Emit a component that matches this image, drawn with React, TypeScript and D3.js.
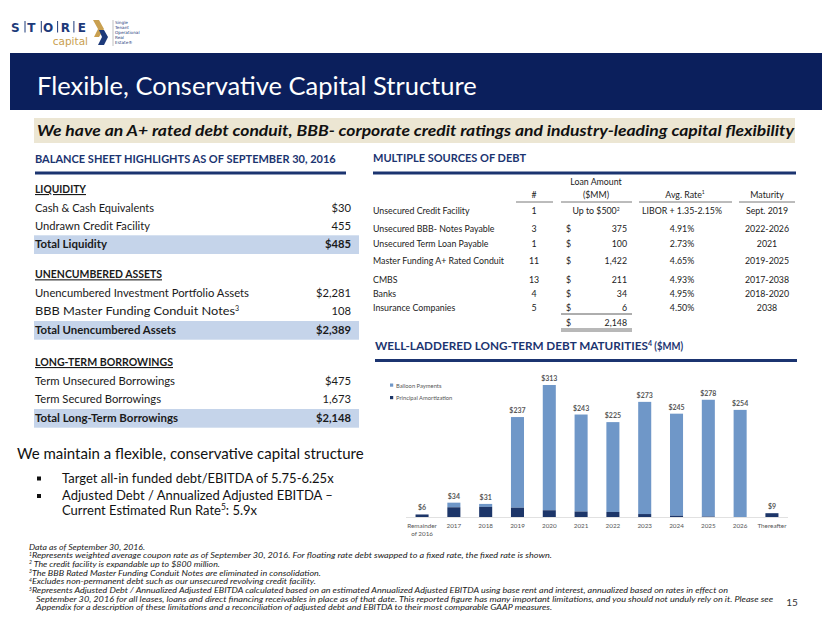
import React from "react";
import * as d3 from "d3";

const categories = ["Remainder|of 2016", "2017", "2018", "2019", "2020", "2021", "2022", "2023", "2024", "2025", "2026", "Thereafter"];
const balloon = [0, 11, 7, 215, 297, 230, 213, 266, 242, 277, 254, 0];
const amortization = [6, 23, 24, 22, 16, 13, 12, 7, 3, 1, 0, 9];
const seriesNames = ["Balloon Payments", "Principal Amortization"];

const liquidityRows = [["Cash & Cash Equivalents", "$30"], ["Undrawn Credit Facility", "455"]];
const liquidityTotal = ["Total Liquidity", "$485"];
const unencRows = [["Unencumbered Investment Portfolio Assets", "$2,281"], ["BBB Master Funding Conduit Notes|3", "108"]];
const unencTotal = ["Total Unencumbered Assets", "$2,389"];
const borrowRows = [["Term Unsecured Borrowings", "$475"], ["Term Secured Borrowings", "1,673"]];
const borrowTotal = ["Total Long-Term Borrowings", "$2,148"];

const debtNames = ["Unsecured Credit Facility", "Unsecured BBB- Notes Payable", "Unsecured Term Loan  Payable", "Master Funding A+ Rated Conduit", "CMBS", "Banks", "Insurance Companies"];
const debtCounts = ["1", "3", "1", "11", "13", "4", "5"];
const debtAmounts = ["", "375", "100", "1,422", "211", "34", "6"];
const debtRates = ["LIBOR + 1.35-2.15%", "4.91%", "2.73%", "4.65%", "4.93%", "4.95%", "4.50%"];
const debtMaturities = ["Sept. 2019", "2022-2026", "2021", "2019-2025", "2017-2038", "2018-2020", "2038"];
const debtTotal = "2,148";

const footnotes = [
  ["", "Data as of September 30, 2016."],
  ["1", "Represents weighted average coupon rate as of September 30, 2016.  For floating rate debt swapped to a fixed rate, the fixed rate is shown."],
  ["2", " The credit facility is expandable up to $800 million."],
  ["3", "The BBB Rated Master Funding Conduit Notes are eliminated in consolidation."],
  ["4", "Excludes non-permanent debt such as our unsecured revolving credit facility."],
  ["5", "Represents Adjusted Debt / Annualized Adjusted EBITDA calculated based on an estimated Annualized Adjusted EBITDA using base rent and interest, annualized based on rates in effect on"],
  ["", "September 30, 2016 for all leases, loans and direct financing receivables in place as of that date. This reported figure has many important limitations, and you should not unduly rely on it.  Please see"],
  ["", "Appendix for a description of these limitations and a reconciliation of adjusted debt and EBITDA to their most comparable GAAP measures."],
];

// layout (not data): measured text widths from the reference
const FOOT_WIDTHS = [116, 523, 191, 292, 287, 699, 737, 516];
const LABEL_WIDTHS: Record<string, number> = {
  "Cash & Cash Equivalents": 119,
  "Undrawn Credit Facility": 115,
  "Total Liquidity": 72,
  "Unencumbered Investment Portfolio Assets": 214,
  "BBB Master Funding Conduit Notes": 200,
  "Total Unencumbered Assets": 141,
  "Term Unsecured Borrowings": 140,
  "Term Secured Borrowings": 126,
  "Total Long-Term Borrowings": 143,
  "LIQUIDITY": 51,
  "UNENCUMBERED ASSETS": 127,
  "LONG-TERM BORROWINGS": 138,
};

const FONT = "Lato, 'Open Sans', sans-serif";
const NAVY = "#0b1f5c";
const HEAD = "#1b3470";
const BAR_LIGHT = "#6f97c8";
const BAR_DARK = "#1d3669";
const HILITE = "#c5d4ea";
const TEXT = "#1a1a1a";

function Section({ y0, title, rows, total, rowYs, totalY }: any) {
  return (
    <g>
      <text x={35} y={y0} fontSize={11} fontWeight={700} textDecoration="underline" fill={TEXT} textLength={LABEL_WIDTHS[title]} lengthAdjust="spacingAndGlyphs">{title}</text>
      {rows.map((r: string[], i: number) => {
        const [label, sup] = r[0].split("|");
        return (
          <g key={i}>
            <text x={35} y={rowYs[i]} fontSize={11.2} fill={TEXT}>
              <tspan textLength={LABEL_WIDTHS[label]} lengthAdjust="spacingAndGlyphs">{label}</tspan>
              {sup && <tspan dy={-4} fontSize={7}>{sup}</tspan>}
            </text>
            <text x={351} y={rowYs[i]} fontSize={11.2} textAnchor="end" fill={TEXT}>{r[1]}</text>
          </g>
        );
      })}
      <rect x={34} y={totalY - 13} width={325} height={18.7} fill={HILITE} />
      <text x={35} y={totalY} fontSize={11.2} fontWeight={700} fill={TEXT} textLength={LABEL_WIDTHS[total[0]]} lengthAdjust="spacingAndGlyphs">{total[0]}</text>
      <text x={351} y={totalY} fontSize={11.2} fontWeight={700} textAnchor="end" fill={TEXT}>{total[1]}</text>
    </g>
  );
}

export default function App() {
  const x = d3.scaleBand<string>().domain(categories).range([406, 788]).paddingInner(0.59).paddingOuter(0.3);
  const y = d3.scaleLinear().domain([0, 313]).range([517, 385]);
  const stacked = categories.map((c, i) => ({ c, a: amortization[i], b: balloon[i], t: amortization[i] + balloon[i] }));

  const rowY = [214, 232.3, 246.7, 264.3, 282.7, 296.7, 311];

  return (
    <svg width={830} height={623} style={{ position: "absolute", left: 0, top: 0, background: "#fff" }} fontFamily={FONT}>
      {/* Logo */}
      <g>
        <text x={11} y={31.5} fontSize={12} fontWeight={900} fill="#1d3a7a" letterSpacing={7.6} fontFamily="'DejaVu Sans', sans-serif">STORE</text>
        {[0, 1, 2, 3].map((i) => (
          <line key={i} x1={25 + i * 16.3} x2={25 + i * 16.3} y1={21} y2={32.5} stroke="#1d3a7a" strokeWidth={1} />
        ))}
        <text x={88} y={44.5} fontSize={10.5} fill="#c9a050" textAnchor="end" fontFamily="'DejaVu Sans', sans-serif">capital</text>
        <polygon points="93,20 99,20 104,29 99,37 94,37 98,29" fill="#c9a050" />
        <polygon points="99,30 104,30 108,37 104,45 98,45 102,37" fill="#1d3a7a" />
        <line x1={113} x2={113} y1={20} y2={46} stroke="#999" strokeWidth={0.6} />
        {["Single", "Tenant", "Operational", "Real", "Estate®"].map((t, i) => (
          <text key={t} x={115} y={24 + i * 5} fontSize={4.2} fill="#1d3a7a" fontFamily="'DejaVu Sans', sans-serif">{t}</text>
        ))}
      </g>

      {/* Title banner */}
      <rect x={10} y={53} width={812} height={57} fill={NAVY} />
      <text x={37} y={95} fontSize={25.5} fill="#fff">Flexible, Conservative Capital Structure</text>

      {/* Tagline */}
      <rect x={34} y={118} width={761} height={25} fill="#ece6d3" />
      <text x={37} y={136} fontSize={15.5} fontWeight={700} fontStyle="italic" fill="#111" textLength={757} lengthAdjust="spacingAndGlyphs">
        We have an A+ rated debt conduit, BBB- corporate credit ratings and industry-leading capital flexibility
      </text>

      {/* Left section heading */}
      <text x={35} y={163} fontSize={11} fontWeight={700} fill={HEAD}>BALANCE SHEET HIGHLIGHTS AS OF SEPTEMBER 30, 2016</text>
      <rect x={35} y={171.5} width={311} height={3} fill={HEAD} />

      <Section y0={193} title="LIQUIDITY" rows={liquidityRows} total={liquidityTotal} rowYs={[211.7, 230]} totalY={248.3} />
      <Section y0={278.3} title="UNENCUMBERED ASSETS" rows={unencRows} total={unencTotal} rowYs={[296.7, 315.3]} totalY={334} />
      <Section y0={366} title="LONG-TERM BORROWINGS" rows={borrowRows} total={borrowTotal} rowYs={[385, 403.3]} totalY={422} />

      {/* Capital structure bullets */}
      <text x={17} y={459.3} fontSize={15} fill="#111">We maintain a flexible, conservative capital structure</text>
      <rect x={37} y={476.5} width={4} height={4} fill="#111" />
      <text x={62} y={482.7} fontSize={13} fill="#111">Target all-in funded debt/EBITDA of 5.75-6.25x</text>
      <rect x={37} y={494} width={4} height={4} fill="#111" />
      <text x={62} y={500} fontSize={13} fill="#111">Adjusted Debt / Annualized Adjusted EBITDA –</text>
      <text x={62} y={515.3} fontSize={13} fill="#111">
        Current Estimated Run Rate<tspan dy={-5} fontSize={8.5}>5</tspan><tspan dy={5}>:  5.9x</tspan>
      </text>

      {/* Right: Multiple sources of debt */}
      <text x={373} y={162} fontSize={11} fontWeight={700} fill={HEAD}>MULTIPLE SOURCES OF DEBT</text>
      <rect x={373} y={171.5} width={423} height={3} fill={HEAD} />

      <g fontSize={8.8} fill="#222">
        <text x={596} y={185} textAnchor="middle">Loan Amount</text>
        <text x={596} y={197.5} textAnchor="middle">($MM)</text>
        <text x={534} y={197.5} textAnchor="middle">#</text>
        <text x={685} y={197.5} textAnchor="middle">Avg. Rate<tspan dy={-3.5} fontSize={5}>1</tspan></text>
        <text x={767} y={197.5} textAnchor="middle">Maturity</text>
        {[[516, 553], [561, 632], [639, 732], [739, 795]].map(([a, b], i) => (
          <line key={i} x1={a} x2={b} y1={202} y2={202} stroke="#555" strokeWidth={0.8} />
        ))}
        {debtNames.map((n, i) => (
          <g key={n}>
            <text x={373} y={rowY[i]}>{n}</text>
            <text x={534} y={rowY[i]} textAnchor="middle">{debtCounts[i]}</text>
            {i === 0 ? (
              <text x={596} y={rowY[i]} textAnchor="middle">Up to $500<tspan dy={-3.5} fontSize={5}>2</tspan></text>
            ) : (
              <g>
                <text x={566} y={rowY[i]}>$</text>
                <text x={627} y={rowY[i]} textAnchor="end">{debtAmounts[i]}</text>
              </g>
            )}
            <text x={682} y={rowY[i]} textAnchor="middle">{debtRates[i]}</text>
            <text x={767} y={rowY[i]} textAnchor="middle">{debtMaturities[i]}</text>
          </g>
        ))}
        <line x1={561} x2={632} y1={314} y2={314} stroke="#333" strokeWidth={0.8} />
        <text x={566} y={326}>$</text>
        <text x={627} y={326} textAnchor="end">{debtTotal}</text>
        <line x1={561} x2={632} y1={329} y2={329} stroke="#333" strokeWidth={0.7} />
        <line x1={561} x2={632} y1={331} y2={331} stroke="#333" strokeWidth={0.7} />
      </g>

      {/* Chart heading */}
      <text x={375} y={350} fontSize={11} fontWeight={700} fill={HEAD}>
        <tspan textLength={273} lengthAdjust="spacingAndGlyphs">WELL-LADDERED LONG-TERM DEBT MATURITIES</tspan>
        <tspan dy={-4} fontSize={7}>4</tspan>
        <tspan dy={4} textLength={31} lengthAdjust="spacingAndGlyphs"> ($MM)</tspan>
      </text>
      <rect x={375} y={359} width={422} height={3} fill={HEAD} />

      {/* Legend */}
      <rect x={390} y={383.5} width={3.2} height={3.2} fill={BAR_LIGHT} />
      <text x={396} y={387.5} fontSize={5.8} fill="#555">{seriesNames[0]}</text>
      <rect x={390} y={396} width={3.2} height={3.2} fill={BAR_DARK} />
      <text x={396} y={400} fontSize={5.8} fill="#555">{seriesNames[1]}</text>

      {/* Bars */}
      <line x1={406} x2={788} y1={517.5} y2={517.5} stroke="#d9d9d9" strokeWidth={0.8} />
      {stacked.map((d) => {
        const bx = x(d.c)!;
        const bw = x.bandwidth();
        return (
          <g key={d.c}>
            {d.b > 0 && <rect x={bx} y={y(d.a + d.b)} width={bw} height={y(d.a) - y(d.a + d.b)} fill={BAR_LIGHT} />}
            {d.a > 0 && <rect x={bx} y={y(d.a)} width={bw} height={y(0) - y(d.a)} fill={BAR_DARK} />}
            <text x={bx + bw / 2} y={y(d.t) - 4} fontSize={7} fontWeight={700} textAnchor="middle" fill="#595959">${d.t}</text>
            {d.c.split("|").map((s, j) => (
              <text key={j} x={bx + bw / 2} y={528 + j * 8} fontSize={6.3} textAnchor="middle" fill="#555">{s}</text>
            ))}
          </g>
        );
      })}

      {/* Footnotes */}
      <g fontSize={7.8} fontStyle="italic" fill="#222">
        {footnotes.map(([sup, t], i) => (
          <text key={i} x={i >= 6 ? 36 : 29} y={549.5 + i * 8.7}>
            {sup && <tspan dy={-2.5} fontSize={5}>{sup}</tspan>}
            <tspan dy={sup ? 2.5 : 0} textLength={FOOT_WIDTHS[i] - (sup ? 3 : 0)} lengthAdjust="spacingAndGlyphs">{t}</tspan>
          </text>
        ))}
      </g>
      <text x={792} y={606} fontSize={10} fill="#333" textAnchor="middle">15</text>
    </svg>
  );
}
